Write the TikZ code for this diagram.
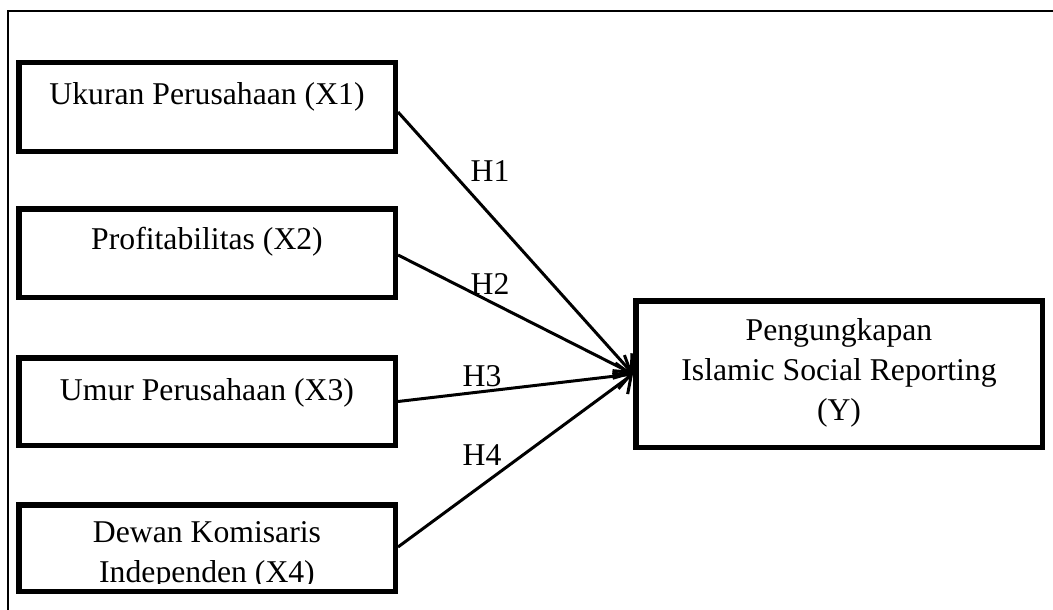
\documentclass[tikz,border=0pt]{standalone}
\usepackage{fontspec}
\setmainfont{Liberation Serif}
\usetikzlibrary{arrows.meta}
\begin{document}
\begin{tikzpicture}[x=1pt,y=-1pt,
  box/.style={draw, line width=5.5pt, inner sep=0pt},
  lbl/.style={anchor=base, inner sep=0pt, font=\fontsize{31.7}{40}\selectfont},
  conn/.style={line width=3pt, -{Straight Barb[length=14pt,width=26pt]}}]
\useasboundingbox (0,0) rectangle (1053,610);
\fill[white] (0,0) rectangle (1053,610);
\draw[line width=2pt] (8,612) -- (8,11) -- (1055,11);
% boxes
\node[box, minimum width=376.5pt, minimum height=88.5pt] (b1) at (207,107) {};
\node[box, minimum width=376.5pt, minimum height=88.5pt] (b2) at (207,253) {};
\node[box, minimum width=376.5pt, minimum height=87.5pt] (b3) at (207,401.5) {};
\node[box, minimum width=376.5pt, minimum height=86.5pt] (b4) at (207,548) {};
\node[box, minimum width=406.5pt, minimum height=146.5pt] (y) at (839,374) {};
% texts
\node[lbl] (t1) at (207,104) {Ukuran Perusahaan (X1)};
\node[lbl] (t2) at (207,249) {Profitabilitas (X2)};
\node[lbl] (t3) at (207,400) {Umur Perusahaan (X3)};
\begin{scope}
\clip (22,500) rectangle (392,583);
\node[lbl] (t4) at (207,542) {\begin{tabular}[t]{@{}c@{}}Dewan Komisaris\\Independen (X4)\end{tabular}};
\end{scope}
\node[lbl] (ty) at (839,340) {\begin{tabular}[t]{@{}c@{}}Pengungkapan\\Islamic Social Reporting\\(Y)\end{tabular}};
% connectors
\draw[conn] ([yshift=-5pt]b1.east) -- (y.west);
\draw[conn] ([yshift=-2pt]b2.east) -- (y.west);
\draw[conn] (b3.east) -- (y.west);
\draw[conn] ([yshift=1pt]b4.east) -- (y.west);
% labels
\node[lbl] (h1) at (490,181) {H1};
\node[lbl] (h2) at (490,294) {H2};
\node[lbl] (h3) at (482,386) {H3};
\node[lbl] (h4) at (482,465) {H4};
\end{tikzpicture}
\end{document}
